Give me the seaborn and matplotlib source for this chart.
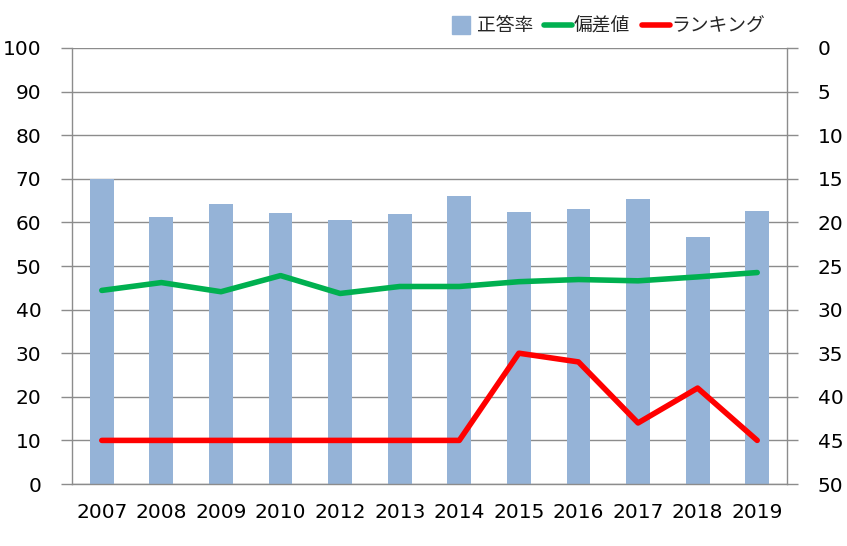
import matplotlib
matplotlib.use('Agg')
import matplotlib.pyplot as plt
import seaborn as sns
import pandas as pd
import numpy as np
from matplotlib.lines import Line2D

years = ['2007', '2008', '2009', '2010', '2012', '2013', '2014',
         '2015', '2016', '2017', '2018', '2019']
seitouritsu = [70.0, 61.2, 64.2, 62.2, 60.5, 61.9, 66.0, 62.4, 63.1, 65.4, 56.7, 62.6]
hensachi = [44.4, 46.2, 44.1, 47.8, 43.7, 45.3, 45.3, 46.4, 46.9, 46.6, 47.5, 48.5]
ranking = [45, 45, 45, 45, 45, 45, 45, 35, 36, 43, 39, 45]

left_ticks = [0, 10, 20, 30, 40, 50, 60, 70, 80, 90, 100]
right_ticks = [0, 5, 10, 15, 20, 25, 30, 35, 40, 45, 50]

df = pd.DataFrame({'year': years, 'rate': seitouritsu,
                   'hensachi': hensachi, 'ranking': ranking})

sns.set_theme(style='white')
plt.rcParams['font.family'] = ['DejaVu Sans', 'Noto Sans CJK JP']

BAR = '#95B3D7'
GREEN = '#00B050'
RED = '#FF0000'
GRID = '#8C8C8C'

fig = plt.figure(figsize=(8.47, 5.46), dpi=100)
ax = fig.add_axes([72/847, 62/546, (787-72)/847, (484-48)/546])

sns.barplot(data=df, x='year', y='rate', color=BAR, width=0.4,
            saturation=1, ax=ax, zorder=2, linewidth=0, edgecolor='none')
sns.pointplot(data=df, x='year', y='hensachi', color=GREEN, markers='',
              errorbar=None, ax=ax, linewidth=4, zorder=3)

ax.set_ylim(0, 100)
ax.set_yticks(left_ticks)
ax.set_xlim(-0.5, len(years) - 0.5)
ax.set_xlabel('')
ax.set_ylabel('')
ax.grid(axis='y', color=GRID, linewidth=1, zorder=0)
ax.set_axisbelow(True)
for s in ['top', 'right']:
    ax.spines[s].set_visible(False)
for s in ['left', 'bottom']:
    ax.spines[s].set_color(GRID)
    ax.spines[s].set_linewidth(1)

ax.set_xticks(np.arange(-0.5, len(years), 1.0), minor=True)
ax.tick_params(axis='x', which='major', length=0, pad=14, labelsize=14.5, colors='black')
ax.tick_params(axis='x', which='minor', length=8, width=1, color=GRID, direction='out')
ax.tick_params(axis='y', which='major', length=8, width=1, color=GRID, labelsize=14.5,
               labelcolor='black', pad=14, direction='out', left=True)

ax2 = ax.twinx()
sns.pointplot(data=df, x='year', y='ranking', color=RED, markers='',
              errorbar=None, ax=ax2, linewidth=4, zorder=3)
ax2.set_ylim(50, 0)
ax2.set_yticks(right_ticks)
ax2.set_xlim(-0.5, len(years) - 0.5)
ax2.set_ylabel('')
ax2.set_xlabel('')
ax2.grid(False)
for s in ['top', 'left', 'bottom']:
    ax2.spines[s].set_visible(False)
ax2.spines['right'].set_color(GRID)
ax2.spines['right'].set_linewidth(1)
ax2.tick_params(axis='y', length=8, width=1, color=GRID, labelsize=14.5,
                labelcolor='black', pad=14, direction='out', right=True)

for a in (ax, ax2):
    for ln in a.lines:
        ln.set_solid_capstyle('round')
        ln.set_solid_joinstyle('round')

handles = [
    Line2D([], [], marker='s', linestyle='', markersize=13, color=BAR),
    Line2D([], [], color=GREEN, linewidth=4, solid_capstyle='round'),
    Line2D([], [], color=RED, linewidth=4, solid_capstyle='round'),
]
labels = ['正答率', '偏差値', 'ランキング']
fig.legend(handles, labels, loc='center', bbox_to_anchor=(606/847, 1 - 26/546),
           ncol=3, frameon=False, handlelength=1.5,
           handletextpad=0.1, columnspacing=0.6,
           prop={'family': ['Noto Sans CJK JP', 'DejaVu Sans'], 'size': 13.5})

fig.savefig('out.png', dpi=100)
